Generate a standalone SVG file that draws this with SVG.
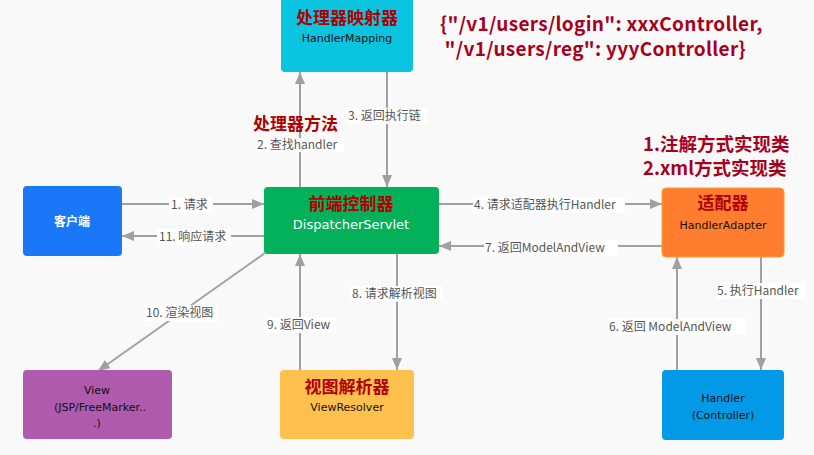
<svg xmlns="http://www.w3.org/2000/svg" width="814" height="455" viewBox="0 0 814 455">
<defs>
<marker id="arr" viewBox="0 0 12 10" refX="12" refY="5" markerWidth="12" markerHeight="10" markerUnits="userSpaceOnUse" orient="auto">
<path d="M0,0 L12,5 L0,10 Z" fill="#a0a0a0"/>
</marker>
</defs>
<style>
.ln{stroke:#a0a0a0;stroke-width:2;fill:none;marker-end:url(#arr)}
.lb{font-family:"Noto Sans CJK SC","Liberation Sans",sans-serif;font-size:12px;fill:#555}
.lbg{fill:#ffffff}
.t{font-family:"Noto Sans CJK SC",sans-serif;font-weight:bold;font-size:17px;fill:#b00000;text-anchor:middle}
.e{font-family:"DejaVu Sans","Liberation Sans",sans-serif;font-size:11px;text-anchor:middle;fill:#111}
.ann{font-family:"Noto Sans CJK SC","Liberation Sans",sans-serif;font-weight:bold;fill:#a8001c}
</style>
<rect width="814" height="455" fill="#f9f9f9"/>

<g id="connectors">
<line class="ln" x1="122" y1="204" x2="264" y2="204"/>
<line class="ln" x1="264" y1="236" x2="122" y2="236"/>
<line class="ln" x1="300" y1="187" x2="300" y2="72"/>
<line class="ln" x1="387" y1="72" x2="387" y2="187"/>
<line class="ln" x1="439" y1="204" x2="662" y2="204"/>
<line class="ln" x1="662" y1="246" x2="439" y2="246"/>
<line class="ln" x1="761" y1="257" x2="761" y2="370"/>
<line class="ln" x1="677" y1="370" x2="677" y2="257"/>
<line class="ln" x1="397" y1="254" x2="397" y2="370"/>
<line class="ln" x1="300" y1="370" x2="300" y2="254"/>
<line class="ln" x1="265" y1="253" x2="98" y2="371"/>

<rect class="lbg" x="169" y="197" width="44" height="16"/>
<text class="lb" x="171" y="209">1. 请求</text>
<rect class="lbg" x="157" y="229" width="74" height="16"/>
<text class="lb" x="159" y="241">11. 响应请求</text>
<rect class="lbg" x="256" y="138" width="88" height="14"/>
<text class="lb" x="257" y="149">2. 查找handler</text>
<rect class="lbg" x="347" y="108" width="80" height="16"/>
<text class="lb" x="348" y="120">3. 返回执行链</text>
<rect class="lbg" x="473" y="197" width="152" height="16"/>
<text class="lb" x="474" y="209">4. 请求适配器执行Handler</text>
<rect class="lbg" x="484" y="240" width="134" height="16"/>
<text class="lb" x="485" y="252">7. 返回ModelAndView</text>
<rect class="lbg" x="716" y="283" width="90" height="16"/>
<text class="lb" x="717" y="295">5. 执行Handler</text>
<rect class="lbg" x="608" y="319" width="138" height="16"/>
<text class="lb" x="609" y="331">6. 返回 ModelAndView</text>
<rect class="lbg" x="351" y="286" width="92" height="16"/>
<text class="lb" x="352" y="298">8. 请求解析视图</text>
<rect class="lbg" x="266" y="317" width="70" height="16"/>
<text class="lb" x="267" y="329">9. 返回View</text>
<rect class="lbg" x="145" y="305" width="74" height="16"/>
<text class="lb" x="146" y="317">10. 渲染视图</text>
</g>

<g id="handlerMapping">
<rect x="281" y="-6" width="132" height="78" rx="4" fill="#0bc4df"/>
<text class="t" x="347" y="24">处理器映射器</text>
<text class="e" x="347" y="42">HandlerMapping</text>
</g>

<g id="client">
<rect x="23" y="186" width="99" height="70" rx="4" fill="#1a77f7"/>
<text x="72" y="226" font-family="Noto Sans CJK SC,sans-serif" font-size="12" font-weight="bold" fill="#fff" text-anchor="middle">客户端</text>
</g>

<g id="dispatcherServlet">
<rect x="264" y="187" width="175" height="67" rx="4" fill="#03b15b"/>
<text class="t" x="351" y="210">前端控制器</text>
<text x="351" y="229" font-family="DejaVu Sans,sans-serif" font-size="13" fill="#fff" text-anchor="middle">DispatcherServlet</text>
</g>

<g id="handlerAdapter">
<rect x="662" y="188" width="122" height="69" rx="4" fill="#ff7d2e" stroke="#ff9a30" stroke-width="1"/>
<text class="t" x="723" y="209">适配器</text>
<text class="e" x="723" y="229">HandlerAdapter</text>
</g>

<g id="view">
<rect x="23" y="370" width="149" height="69" rx="4" fill="#b05aad"/>
<text class="e" x="97" y="394">View</text>
<text class="e" x="100" y="411">(JSP/FreeMarker..</text>
<text class="e" x="97" y="427">.)</text>
</g>

<g id="viewResolver">
<rect x="280" y="370" width="134" height="69" rx="4" fill="#ffc04e"/>
<text class="t" x="347" y="393">视图解析器</text>
<text class="e" x="347" y="411">ViewResolver</text>
</g>

<g id="handler">
<rect x="662" y="370" width="122" height="70" rx="4" fill="#0299e7"/>
<text class="e" x="723" y="402">Handler</text>
<text class="e" x="723" y="419">(Controller)</text>
</g>

<text class="ann" x="253" y="130" font-size="17" style="fill:#b00000">处理器方法</text>
<text class="ann" x="440" y="31" font-size="19" letter-spacing="0.3">{"/v1/users/login": xxxController,</text>
<text class="ann" x="440" y="56" font-size="19" letter-spacing="0.3" xml:space="preserve"> "/v1/users/reg": yyyController}</text>
<text class="ann" x="643" y="151" font-size="18.5">1.注解方式实现类</text>
<text class="ann" x="643" y="175" font-size="18.5">2.xml方式实现类</text>
</svg>
